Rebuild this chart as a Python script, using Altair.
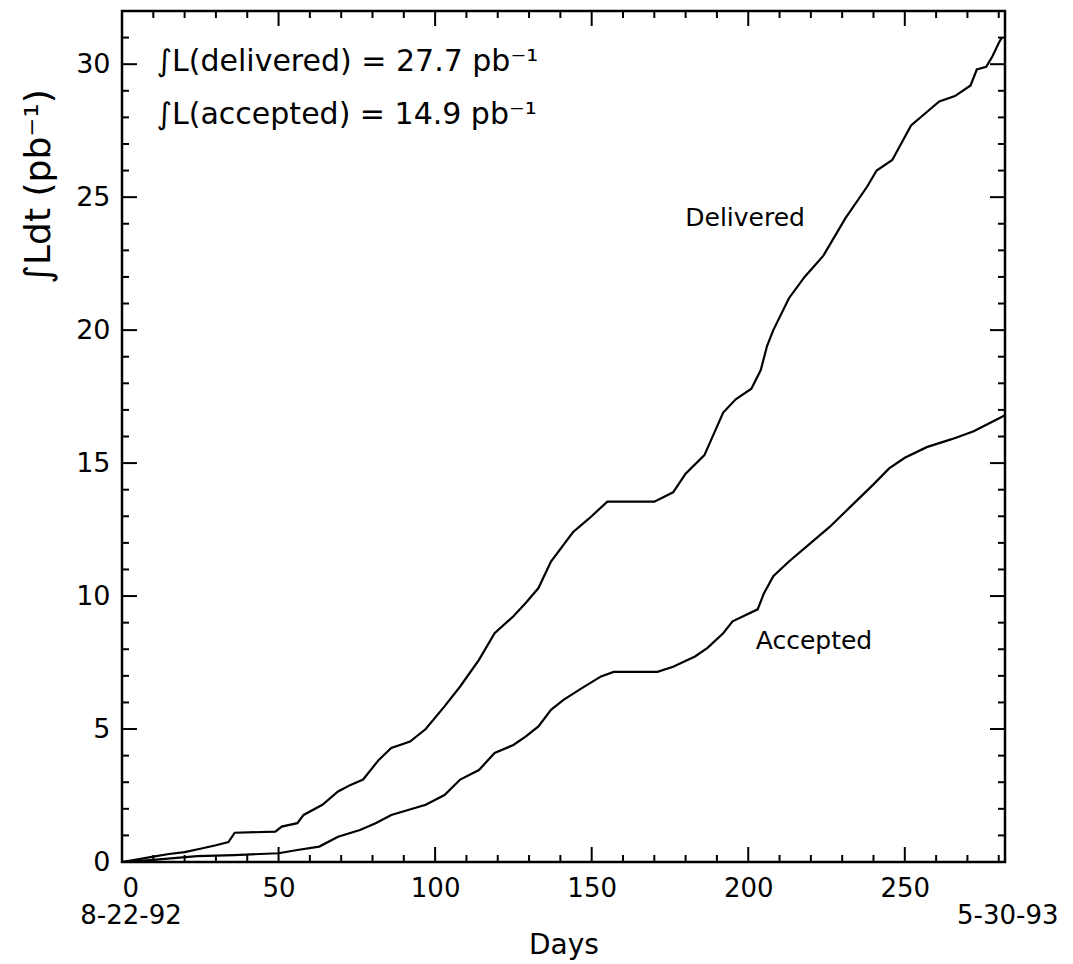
import altair as alt
import pandas as pd

# ---- data ----
del_day = [0, 5, 10, 15, 20, 25, 30, 34, 36, 49, 51, 56, 58, 64, 69, 73, 77, 82, 86, 92, 97,
           103, 108, 114, 119, 125, 129, 133, 137, 144, 149, 155, 170, 176, 180, 186, 189, 192,
           196, 201, 204, 206, 208, 213, 218, 224, 231, 238, 241, 246, 252, 256, 261, 266, 271,
           273, 276, 278, 280, 281]
del_val = [0, 0.1, 0.2, 0.3, 0.37, 0.5, 0.63, 0.75, 1.1, 1.14, 1.33, 1.46, 1.77, 2.15, 2.65, 2.9,
           3.1, 3.84, 4.29, 4.53, 5.0, 5.85, 6.6, 7.6, 8.6, 9.24, 9.75, 10.3, 11.3, 12.4, 12.9,
           13.55, 13.55, 13.9, 14.6, 15.3, 16.1, 16.9, 17.4, 17.8, 18.5, 19.4, 20.0, 21.2, 22.0,
           22.8, 24.2, 25.4, 26.0, 26.4, 27.7, 28.1, 28.6, 28.8, 29.2, 29.8, 29.9, 30.3, 30.8, 31.0]

acc_day = [0, 10, 24, 36, 50, 56, 63, 69, 76, 81, 86, 97, 103, 108, 114, 119, 125, 129, 133,
           137, 141, 147, 153, 157, 171, 176, 183, 187, 192, 195, 203, 205, 208, 213, 220, 226,
           233, 240, 245, 250, 257, 265, 272, 277, 282]
acc_val = [0, 0.08, 0.22, 0.26, 0.33, 0.45, 0.58, 0.95, 1.2, 1.46, 1.77, 2.15, 2.52, 3.1, 3.46,
           4.1, 4.4, 4.72, 5.1, 5.72, 6.1, 6.55, 6.98, 7.15, 7.15, 7.34, 7.73, 8.05, 8.6, 9.05,
           9.5, 10.1, 10.75, 11.3, 12.0, 12.6, 13.4, 14.2, 14.8, 15.2, 15.6, 15.9, 16.2, 16.5, 16.8]

x_major = [0, 50, 100, 150, 200, 250]
x_minor = [10, 20, 30, 40, 60, 70, 80, 90, 110, 120, 130, 140, 160, 170, 180, 190,
           210, 220, 230, 240, 260, 270, 280]
y_major = [0, 5, 10, 15, 20, 25, 30]
y_minor = [1, 2, 3, 4, 6, 7, 8, 9, 11, 12, 13, 14, 16, 17, 18, 19, 21, 22, 23, 24,
           26, 27, 28, 29, 31]

note_text = ["∫L(delivered) = 27.7 pb⁻¹", "∫L(accepted) = 14.9 pb⁻¹"]
note_day = [11, 11]
note_val = [30.1, 28.1]

curve_text = ["Delivered", "Accepted"]
curve_day = [199, 221]
curve_val = [24.2, 8.3]

date_text = ["8-22-92", "5-30-93"]
date_day = [0, 280]

# ---- layout ----
W, H = 883, 851
FONT = "DejaVu Sans"
xs = alt.Scale(domain=[0, 282], nice=False, zero=False)
ys = alt.Scale(domain=[0, 32], nice=False)

curves = pd.concat([
    pd.DataFrame({"day": del_day, "val": del_val, "series": "Delivered"}),
    pd.DataFrame({"day": acc_day, "val": acc_val, "series": "Accepted"}),
])

lines = alt.Chart(curves).mark_line(color="black", strokeWidth=2.2, interpolate="linear").encode(
    x=alt.X("day:Q", scale=xs, axis=alt.Axis(
        values=x_major, ticks=False, tickSize=0, domain=False, grid=False,
        labelFontSize=26, labelPadding=13, labelFont=FONT, labelColor="black",
        title="Days", titleFontSize=28, titleFont=FONT, titleFontWeight="normal",
        titleColor="black", titleY=83, titleBaseline="middle")),
    y=alt.Y("val:Q", scale=ys, axis=alt.Axis(
        values=y_major, ticks=False, tickSize=0, domain=False, grid=False,
        labelFontSize=27, labelPadding=12, labelFont=FONT, labelColor="black",
        title="∫Ldt (pb⁻¹)", titleFontSize=36, titleFont=FONT, titleFontWeight="normal",
        titleColor="black", titleAngle=270, titleX=-84, titleY=175,
        titleAlign="center", titleBaseline="middle")),
    detail="series:N",
)

frame = alt.Chart(pd.DataFrame({"day": [0]})).mark_rect(
    filled=False, stroke="black", strokeWidth=2.5, fill=None).encode(
    x=alt.value(0), x2=alt.value(W), y=alt.value(0), y2=alt.value(H))

def xticks(vals, length):
    df = pd.DataFrame({"day": vals})
    bot = alt.Chart(df).mark_rule(color="black", strokeWidth=2).encode(
        x=alt.X("day:Q", scale=xs), y=alt.value(H), y2=alt.value(H - length))
    top = alt.Chart(df).mark_rule(color="black", strokeWidth=2).encode(
        x=alt.X("day:Q", scale=xs), y=alt.value(0), y2=alt.value(length))
    return [bot, top]

def yticks(vals, length):
    df = pd.DataFrame({"val": vals})
    left = alt.Chart(df).mark_rule(color="black", strokeWidth=2).encode(
        y=alt.Y("val:Q", scale=ys), x=alt.value(0), x2=alt.value(length))
    right = alt.Chart(df).mark_rule(color="black", strokeWidth=2).encode(
        y=alt.Y("val:Q", scale=ys), x=alt.value(W), x2=alt.value(W - length))
    return [left, right]

notes = alt.Chart(pd.DataFrame({"day": note_day, "val": note_val, "label": note_text})).mark_text(
    align="left", baseline="middle", fontSize=30, font=FONT, color="black").encode(
    x=alt.X("day:Q", scale=xs), y=alt.Y("val:Q", scale=ys), text="label:N")

clabels = alt.Chart(pd.DataFrame({"day": curve_day, "val": curve_val, "label": curve_text})).mark_text(
    align="center", baseline="middle", fontSize=25, font=FONT, color="black").encode(
    x=alt.X("day:Q", scale=xs), y=alt.Y("val:Q", scale=ys), text="label:N")

dates = alt.Chart(pd.DataFrame({"day": date_day, "label": date_text})).mark_text(
    align="center", baseline="middle", fontSize=26, font=FONT, color="black", dx=9).encode(
    x=alt.X("day:Q", scale=xs), y=alt.value(905), text="label:N")

layers = [lines, frame] + xticks(x_major, 15) + xticks(x_minor, 7) + yticks(y_major, 15) + \
    yticks(y_minor, 7) + [notes, clabels, dates]

chart = alt.layer(*layers).properties(
    width=W, height=H,
    autosize=alt.AutoSizeParams(type="none"),
    padding={"left": 122, "top": 11, "right": 68, "bottom": 102},
).configure_view(stroke=None).configure(background="white")

chart.save("out.html", embed_options={"renderer": "svg", "actions": False})
